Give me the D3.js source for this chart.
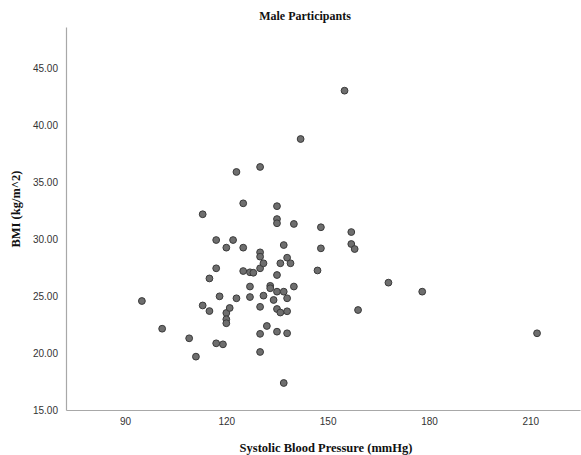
<!DOCTYPE html>
<html>
<head>
<meta charset="utf-8">
<script src="https://cdn.jsdelivr.net/npm/d3@7/dist/d3.min.js"></script>
<style>
  html, body { margin: 0; padding: 0; background: #fff; }
  svg { display: block; }
</style>
</head>
<body>
<svg id="chart" width="581" height="455"></svg>
<script>
// Systolic blood pressure (mmHg) and BMI (kg/m^2) for male participants
const sbp = [95, 101, 109, 111, 113, 113, 115, 115, 117, 117, 117, 118, 119, 120, 120, 120, 120, 121,
  122, 123, 123, 125, 125, 125, 127, 127, 127, 128, 130, 130, 130, 130, 130, 130, 130, 131,
  131, 132, 133, 133, 134, 135, 135, 135, 135, 135, 135, 135, 136, 136, 137, 137, 137, 138,
  138, 138, 138, 139, 140, 140, 142, 147, 148, 148, 155, 157, 157, 158, 159, 168, 178, 212];
const bmi = [24.56, 22.13, 21.29, 19.68, 32.17, 24.17, 26.54, 23.68, 29.91, 27.43, 20.85, 24.97,
  20.76, 29.24, 23.51, 22.96, 22.61, 23.95, 29.91, 35.88, 24.80, 33.13, 29.24, 27.19, 27.08,
  25.83, 24.91, 27.04, 36.32, 28.83, 28.45, 27.43, 24.05, 21.68, 20.09, 27.87, 25.03, 22.37,
  25.89, 25.68, 24.65, 32.88, 31.75, 31.38, 26.84, 25.38, 23.86, 21.87, 27.87, 23.55, 25.38,
  17.37, 29.47, 28.36, 24.80, 23.66, 21.73, 27.87, 31.32, 25.83, 38.77, 27.24, 31.03, 29.18,
  43.01, 30.61, 29.56, 29.12, 23.77, 26.17, 25.38, 21.73];
const xTicks = [90, 120, 150, 180, 210];
const yTicks = [15, 20, 25, 30, 35, 40, 45];

const title = "Male Participants";
const xTitle = "Systolic Blood Pressure (mmHg)";
const yTitle = "BMI (kg/m^2)";

const svg = d3.select("#chart");
const plot = { left: 66, right: 580, top: 27, bottom: 410 };

const x = d3.scaleLinear().domain([90, 210]).range([125, 530.3]);
x.domain([x.invert(plot.left), x.invert(plot.right)]).range([plot.left, plot.right]);
const y = d3.scaleLinear().domain([15, 45]).range([plot.bottom, 68]);
y.domain([15, y.invert(plot.top)]).range([plot.bottom, plot.top]);

const serif = "'Liberation Serif', 'Times New Roman', serif";
const sans = "'Liberation Sans', Arial, sans-serif";

// axes without tick marks, light grey lines
const xAxis = svg.append("g")
  .attr("transform", `translate(0,${plot.bottom})`)
  .call(d3.axisBottom(x).tickValues(xTicks).tickSize(0).tickPadding(8).tickFormat(d3.format("d")));
const yAxis = svg.append("g")
  .attr("transform", `translate(${plot.left},0)`)
  .call(d3.axisLeft(y).tickValues(yTicks).tickSize(0).tickPadding(8).tickFormat(d3.format(".2f")));

[xAxis, yAxis].forEach(g => {
  g.select(".domain").attr("stroke", "#a8a8a8").attr("stroke-width", 1.2);
  g.selectAll("text").attr("font-family", sans).attr("font-size", 10).attr("fill", "#333");
});

// scatter points
svg.append("g")
  .selectAll("circle")
  .data(sbp.map((s, i) => ({ s, b: bmi[i] })))
  .join("circle")
  .attr("cx", d => x(d.s))
  .attr("cy", d => y(d.b))
  .attr("r", 3.4)
  .attr("fill", "#6e6e6e")
  .attr("stroke", "#3a3a3a")
  .attr("stroke-width", 1);

// titles
svg.append("text")
  .attr("x", 305).attr("y", 19.5)
  .attr("text-anchor", "middle")
  .attr("font-family", serif).attr("font-weight", "bold").attr("font-size", 12)
  .attr("fill", "#111")
  .text(title);

svg.append("text")
  .attr("x", 326).attr("y", 452)
  .attr("text-anchor", "middle")
  .attr("font-family", serif).attr("font-weight", "bold").attr("font-size", 12.5)
  .attr("fill", "#111")
  .text(xTitle);

svg.append("text")
  .attr("transform", "translate(20,209) rotate(-90)")
  .attr("text-anchor", "middle")
  .attr("font-family", serif).attr("font-weight", "bold").attr("font-size", 12.5)
  .attr("fill", "#111")
  .text(yTitle);
</script>
</body>
</html>
